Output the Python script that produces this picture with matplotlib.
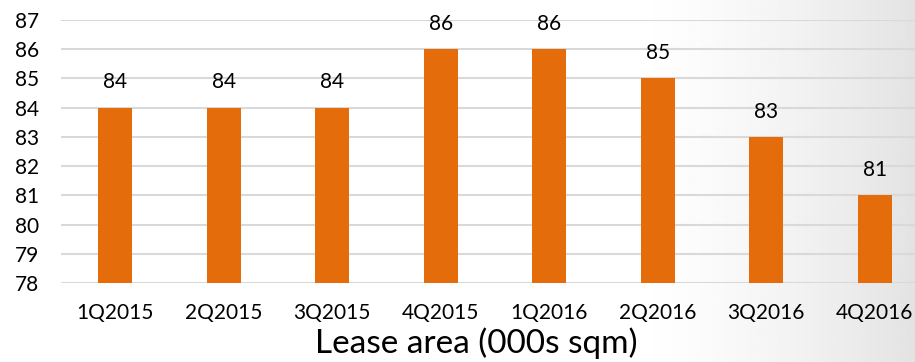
import numpy as np
import matplotlib.pyplot as plt

quarters = ["1Q2015", "2Q2015", "3Q2015", "4Q2015", "1Q2016", "2Q2016", "3Q2016", "4Q2016"]
lease_area = [84, 84, 84, 86, 86, 85, 83, 81]

plt.rcParams['font.family'] = ['Lato', 'DejaVu Sans']

fig = plt.figure(figsize=(9.15, 3.62), dpi=100)

# soft grey shading towards the right edge
bg = fig.add_axes([0, 0, 1, 1], zorder=-10)
xs = np.linspace(0, 1, 400)
shade = np.clip((xs - 0.68) / 0.32, 0, 1) ** 1.5
grad = 1 - 0.11 * np.tile(shade, (50, 1))
bg.imshow(grad, cmap='gray', vmin=0, vmax=1, aspect='auto', extent=[0, 1, 0, 1])
bg.axis('off')

ax = fig.add_axes([0.0667, 0.218, 0.9486, 0.727])
ax.patch.set_alpha(0)
x = np.arange(len(quarters))
ax.bar(x, lease_area, width=0.31, bottom=0, color='#E46C0A', zorder=3)
ax.set_ylim(78, 87)
ax.set_xlim(-0.5, len(quarters) - 0.5)
ax.set_yticks(range(78, 88))
ax.set_xticks(x)
ax.set_xticklabels(quarters)
ax.tick_params(axis='both', length=0, labelsize=15, colors='#000000')
ax.tick_params(axis='x', pad=14)
ax.tick_params(axis='y', pad=16)
ax.grid(axis='y', color='#d9d9d9', linewidth=1.5, zorder=0)
for s in ax.spines.values():
    s.set_visible(False)

for xi, v in zip(x, lease_area):
    ax.annotate(str(v), (xi, v), xytext=(0, 11), textcoords='offset points',
                ha='center', va='bottom', fontsize=15, color='#000000')

ax.set_xlabel("Lease area (000s sqm)", fontsize=24, color='#000000')
ax.xaxis.set_label_coords(0.478, -0.17)
ax.xaxis.label.set_verticalalignment('top')

fig.savefig("out.png", dpi=100)
